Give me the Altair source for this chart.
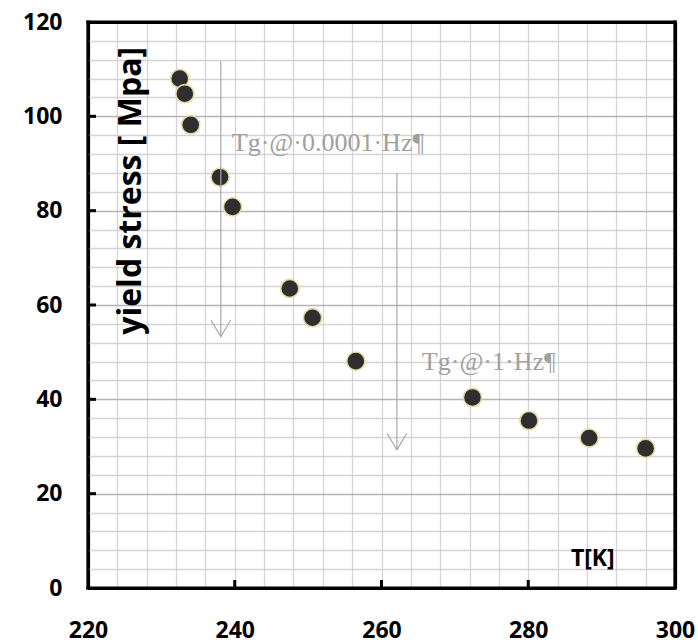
import altair as alt
import pandas as pd

# data
temps = [232.5, 233.2, 234.0, 238.0, 239.7, 247.5, 250.6, 256.5, 272.4, 280.1, 288.3, 296.0]
stress = [108.0, 104.8, 98.2, 87.1, 80.8, 63.5, 57.3, 48.1, 40.4, 35.5, 31.8, 29.6]

x_grid = list(range(220, 301, 4))
y_grid = list(range(0, 121, 4))
x_ticks = [240, 260, 280]
y_ticks = [20, 40, 60, 80, 100]
x_edges = [220, 300]
y_edges = [0, 120]

arrow_x = [238.1, 262.1]
arrow_top = [111.7, 88.0]
arrow_tip = [53.3, 29.3]

note_text = ["Tg·@·0.0001·Hz¶", "Tg·@·1·Hz¶"]
note_x = [239.6, 265.5]
note_y = [92.7, 46.2]

ylabel_text = ["yield stress [ Mpa]"]
ylabel_x = [225.8]
ylabel_y = [84.2]
xlabel_text = ["T[K]"]
xlabel_x = [288.8]
xlabel_y = [6.1]

W, H = 587, 566
xs = alt.Scale(domain=[220, 300], nice=False, zero=False)
ys = alt.Scale(domain=[0, 120], nice=False, zero=False)

df = pd.DataFrame({"T": temps, "S": stress})

x_axis = alt.Axis(
    values=x_grid, title=None, grid=True, ticks=False, domain=False,
    gridColor={"condition": {"test": "datum.value === 220 || datum.value === 300",
                             "value": "black"}, "value": "#d4d4d4"},
    gridWidth={"condition": {"test": "datum.value === 220 || datum.value === 300",
                             "value": 3.2}, "value": 1.3},
    labelExpr="datum.value % 20 === 0 ? datum.label : ''",
    labelOverlap=False, labelFont="Open Sans", labelFontWeight="bold",
    labelFontSize=23, labelColor="black", labelPadding=31, labelBound=False,
    labelFlush=False,
)
y_axis = alt.Axis(
    values=y_grid, title=None, grid=True, ticks=False, domain=False,
    gridColor={"condition": [
        {"test": "datum.value === 0 || datum.value === 120", "value": "black"},
        {"test": "datum.value % 20 === 0", "value": "#b4b4b4"}], "value": "#d4d4d4"},
    gridWidth={"condition": {"test": "datum.value === 0 || datum.value === 120",
                             "value": 3.2}, "value": 1.3},
    labelExpr="datum.value % 20 === 0 ? datum.label : ''",
    labelOverlap=False, labelFont="Open Sans", labelFontWeight="bold",
    labelFontSize=23, labelColor="black", labelPadding=26, labelBound=False,
    labelFlush=False,
)

def X(f):
    return alt.X(f, scale=xs, axis=x_axis)

def Y(f):
    return alt.Y(f, scale=ys, axis=y_axis)

frame_v = alt.Chart(pd.DataFrame({"v": x_edges})).mark_rule(
    color="black", strokeWidth=3.2
).encode(x=X("v:Q"), y=alt.value(-1.6), y2=alt.value(H + 1.6))
frame_h = alt.Chart(pd.DataFrame({"v": y_edges})).mark_rule(
    color="black", strokeWidth=3.2
).encode(y=Y("v:Q"), x=alt.value(-1.6), x2=alt.value(W + 1.6))

points = alt.Chart(df).mark_point(
    filled=True, shape="circle", size=330, fill="#2e2e2e", stroke="#e6d9a8",
    strokeWidth=1.6, opacity=1,
).encode(x=X("T:Q"), y=Y("S:Q"))

xt = alt.Chart(pd.DataFrame({"v": x_ticks})).mark_rule(color="black", strokeWidth=3).encode(
    x=X("v:Q"), y=alt.value(H), y2=alt.value(H - 8)
)
yt = alt.Chart(pd.DataFrame({"v": y_ticks})).mark_rule(color="black", strokeWidth=3).encode(
    y=Y("v:Q"), x=alt.value(0), x2=alt.value(8)
)

adf = pd.DataFrame({"x": arrow_x, "top": arrow_top, "tip": arrow_tip})
arrow_lines = alt.Chart(adf).mark_rule(color="#a8a8a8", strokeWidth=1.2).encode(
    x=X("x:Q"), y=Y("top:Q"), y2="tip:Q"
)
arrow_heads = alt.Chart(adf).mark_point(
    shape="M -0.6 -1 L 0 0 L 0.6 -1", filled=False, stroke="#a8a8a8",
    strokeWidth=1.2, size=1100, opacity=1,
).encode(x=X("x:Q"), y=Y("tip:Q"))

ndf = pd.DataFrame({"t": note_text, "x": note_x, "y": note_y})
notes = alt.Chart(ndf).mark_text(
    font="Liberation Serif", fontSize=26, color="#a0a0a0", align="left",
    baseline="alphabetic",
).encode(x=X("x:Q"), y=Y("y:Q"), text="t:N")

yl = alt.Chart(pd.DataFrame({"t": ylabel_text, "x": ylabel_x, "y": ylabel_y})).mark_text(
    font="Open Sans", fontWeight="bold", fontSize=32, color="black", angle=270,
    align="center", baseline="middle",
).encode(x=X("x:Q"), y=Y("y:Q"), text="t:N")

xl = alt.Chart(pd.DataFrame({"t": xlabel_text, "x": xlabel_x, "y": xlabel_y})).mark_text(
    font="Open Sans", fontWeight="bold", fontSize=23, color="black",
    align="center", baseline="middle",
).encode(x=X("x:Q"), y=Y("y:Q"), text="t:N")

chart = alt.layer(points, arrow_lines, arrow_heads, notes, yl, xl,
                  frame_v, frame_h, xt, yt).properties(
    width=W, height=H, autosize="none",
    padding={"left": 88, "top": 22, "right": 23, "bottom": 55},
).configure(background="white").configure_view(strokeWidth=0)

chart.save("out.html", embed_options={"renderer": "svg", "actions": False})
